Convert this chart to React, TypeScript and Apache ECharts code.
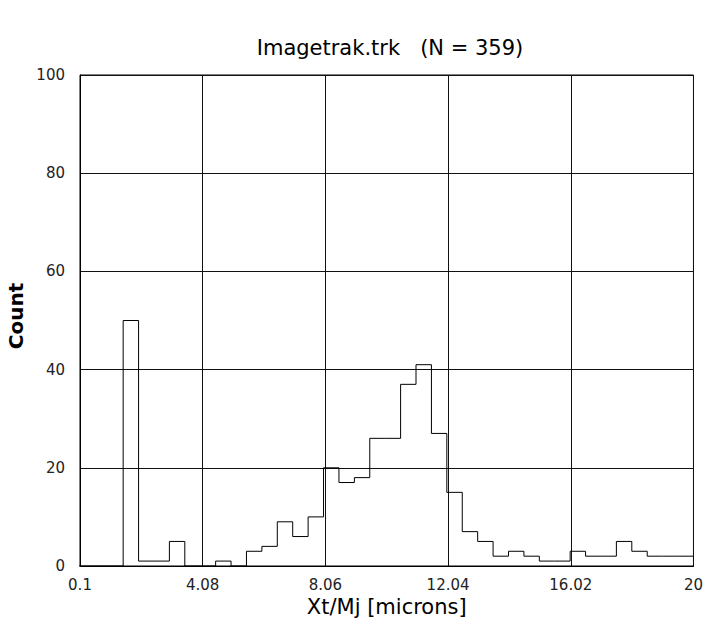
import React, { useEffect, useRef } from "react";
import * as echarts from "echarts";

// Histogram bins: start, width and counts
const binStart = 0;
const binWidth = 0.5;
const counts = [
  0, 0, 0, 50, 1, 1, 5, 0, 0, 1,
  0, 3, 4, 9, 6, 10, 20, 17, 18, 26,
  26, 37, 41, 27, 15, 7, 5, 2, 3, 2,
  1, 1, 3, 2, 2, 5, 3, 2, 2, 2,
];
const xMin = 0.1;
const xMax = 20;
const xInterval = 3.98;
const xTickLabels = ["0.1", "4.08", "8.06", "12.04", "16.02", "20"];
const yTicks = [0, 20, 40, 60, 80, 100];
const titleText = "Imagetrak.trk   (N = 359)";
const xName = "Xt/Mj [microns]";
const yName = "Count";

export default function App() {
  const ref = useRef<HTMLDivElement>(null);
  useEffect(() => {
    if (!ref.current) return;
    const chart = echarts.init(ref.current, null, { renderer: "svg" });
    // shift x so the axis starts at 0 (ticks then fall on multiples of the interval)
    const pts: number[][] = counts.map((c, i) => [binStart + i * binWidth - xMin, c]);
    pts.push([binStart + counts.length * binWidth - xMin, counts[counts.length - 1]]);
    const font = "DejaVu Sans, Verdana, sans-serif";
    chart.setOption({
      animation: false,
      backgroundColor: "#fff",
      title: {
        text: titleText,
        left: 385,
        top: 32,
        textAlign: "center",
        textStyle: { fontFamily: font, fontSize: 21, fontWeight: "normal", color: "#000" },
      },
      grid: {
        left: 80,
        right: 9,
        top: 75,
        bottom: 58,
        show: true,
        borderColor: "#000",
        borderWidth: 1,
      },
      xAxis: {
        type: "value",
        min: 0,
        max: xMax - xMin,
        interval: xInterval,
        name: xName,
        nameLocation: "middle",
        nameGap: 28,
        nameTextStyle: { fontFamily: font, fontSize: 21, color: "#000" },
        axisLine: { show: true, lineStyle: { color: "#000", width: 1 } },
        axisTick: { show: false },
        axisLabel: {
          fontFamily: font,
          fontSize: 15,
          color: "#222",
          margin: 11,
          formatter: (v: number) => xTickLabels[Math.round(v / xInterval)] ?? "",
        },
        splitLine: { show: true, lineStyle: { color: "#111", width: 1 } },
      },
      yAxis: {
        type: "value",
        min: yTicks[0],
        max: yTicks[yTicks.length - 1],
        interval: yTicks[1] - yTicks[0],
        axisLine: { show: true, lineStyle: { color: "#000", width: 1 } },
        axisTick: { show: false },
        axisLabel: { fontFamily: font, fontSize: 15, color: "#222", margin: 15 },
        splitLine: { show: true, lineStyle: { color: "#111", width: 1 } },
      },
      graphic: [
        {
          type: "text",
          x: 16,
          y: 316,
          rotation: Math.PI / 2,
          style: {
            text: yName,
            fontFamily: font,
            fontSize: 20,
            fontWeight: "bold",
            fill: "#000",
            textAlign: "center",
            textVerticalAlign: "middle",
          },
        },
      ],
      series: [
        {
          type: "line",
          step: "end",
          data: pts,
          symbol: "none",
          clip: true,
          lineStyle: { color: "#000", width: 1 },
        },
      ],
    });
    return () => chart.dispose();
  }, []);
  return (
    <div
      ref={ref}
      style={{ position: "fixed", left: 0, top: 0, width: 706, height: 624, background: "#fff" }}
    />
  );
}
